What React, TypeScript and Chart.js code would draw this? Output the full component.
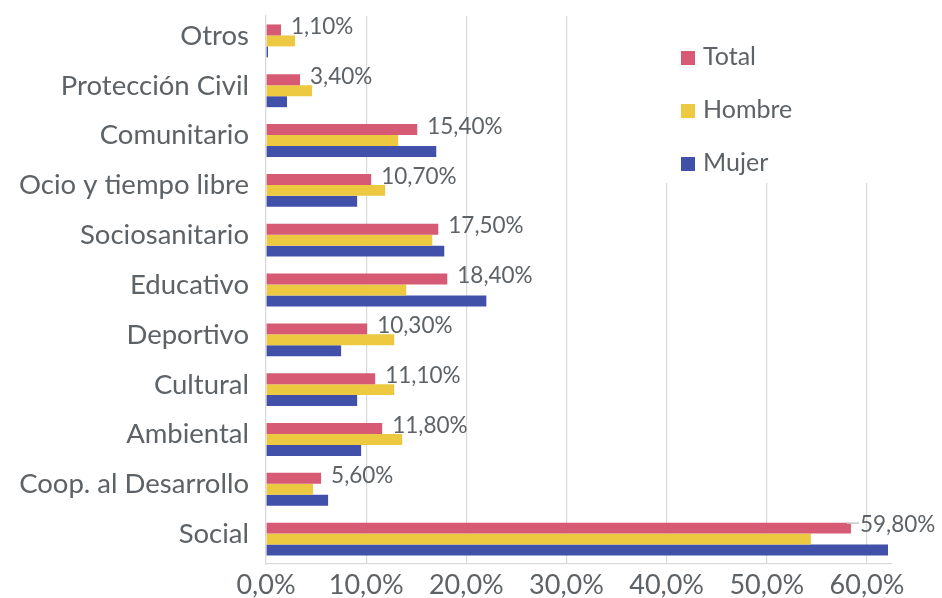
import React, { useEffect, useRef } from "react";
import { Chart, registerables } from "chart.js";

Chart.register(...registerables);

const categories = [
  "Otros",
  "Protección Civil",
  "Comunitario",
  "Ocio y tiempo libre",
  "Sociosanitario",
  "Educativo",
  "Deportivo",
  "Cultural",
  "Ambiental",
  "Coop. al Desarrollo",
  "Social",
];

const totalValues = [1.5, 3.4, 15.1, 10.5, 17.2, 18.1, 10.1, 10.9, 11.6, 5.5, 58.4];
const hombreValues = [2.9, 4.6, 13.2, 11.9, 16.6, 14.0, 12.8, 12.8, 13.6, 4.7, 54.4];
const mujerValues = [0.2, 2.1, 17.0, 9.1, 17.8, 22.0, 7.5, 9.1, 9.5, 6.2, 62.1];

const totalLabels = [
  "1,10%",
  "3,40%",
  "15,40%",
  "10,70%",
  "17,50%",
  "18,40%",
  "10,30%",
  "11,10%",
  "11,80%",
  "5,60%",
  "59,80%",
];

const seriesNames = ["Total", "Hombre", "Mujer"];
const seriesColors = ["#d65a74", "#ecc940", "#4150a8"];

const xTickValues = [0, 10, 20, 30, 40, 50, 60];

const FONT = "Lato, 'Open Sans', sans-serif";
const TEXT = "#5d6266";

export default function App() {
  const ref = useRef<HTMLCanvasElement | null>(null);

  useEffect(() => {
    if (!ref.current) return;

    const overlay = {
      id: "overlay",
      beforeDatasetsDraw(chart: any) {
        const ctx = chart.ctx;
        const area = chart.chartArea;
        ctx.save();
        ctx.fillStyle = "#ffffff";
        ctx.fillRect(640, area.top - 2, 260, 183 - area.top + 2);
        ctx.restore();
      },
      afterDatasetsDraw(chart: any) {
        const ctx = chart.ctx;
        const meta = chart.getDatasetMeta(0);
        ctx.save();
        ctx.font = `22.5px ${FONT}`;
        ctx.fillStyle = TEXT;
        ctx.textBaseline = "middle";
        ctx.textAlign = "left";
        meta.data.forEach((el: any, i: number) => {
          const last = i === meta.data.length - 1;
          const x = el.x + (last ? 9 : 10);
          const y = el.y - 3;
          if (last) {
            ctx.strokeStyle = "#c8c8c8";
            ctx.lineWidth = 1.5;
            ctx.beginPath();
            ctx.moveTo(el.x - 4, el.y - 5);
            ctx.lineTo(el.x + 8, el.y - 5);
            ctx.stroke();
          }
          ctx.fillText(totalLabels[i], x, y);
        });
        // legend
        const ys = [57, 110, 163];
        ctx.font = `25px ${FONT}`;
        seriesNames.forEach((n, i) => {
          ctx.fillStyle = seriesColors[i];
          ctx.fillRect(681, ys[i] - 6, 14, 14);
          ctx.fillStyle = TEXT;
          ctx.fillText(n, 703, ys[i]);
        });
        ctx.restore();
      },
    };

    const chart = new Chart(ref.current, {
      type: "bar",
      data: {
        labels: categories,
        datasets: [
          { label: seriesNames[0], data: totalValues, backgroundColor: seriesColors[0] },
          { label: seriesNames[1], data: hombreValues, backgroundColor: seriesColors[1] },
          { label: seriesNames[2], data: mujerValues, backgroundColor: seriesColors[2] },
        ],
      },
      options: {
        indexAxis: "y",
        responsive: false,
        animation: false,
        maintainAspectRatio: false,
        layout: { padding: { top: 16, right: 50, left: 0, bottom: 0 } },
        datasets: {
          bar: { categoryPercentage: 0.66, barPercentage: 1.0, borderWidth: 0 },
        },
        plugins: {
          legend: { display: false },
          tooltip: { enabled: false },
        },
        scales: {
          x: {
            min: 0,
            max: 62.5,
            afterBuildTicks: (scale: any) => {
              scale.ticks = xTickValues.map((v) => ({ value: v }));
            },
            afterFit: (scale: any) => {
              scale.height = 34;
              scale.paddingLeft = 0;
              scale.paddingRight = 0;
            },
            grid: { color: "#d9d9d9", lineWidth: 1.2, drawTicks: false },
            border: { color: "#d9d9d9", width: 1.2 },
            ticks: {
              padding: 5,
              color: TEXT,
              font: { family: FONT, size: 27 },
              maxRotation: 0,
              callback: (v: any) => Number(v).toFixed(1).replace(".", ",") + "%",
            },
          },
          y: {
            afterFit: (scale: any) => {
              scale.width = 266;
              scale.paddingTop = 0;
              scale.paddingBottom = 0;
            },
            grid: { display: false, drawTicks: false },
            border: { color: "#d9d9d9", width: 1.2 },
            ticks: {
              padding: 17,
              labelOffset: -5,
              color: TEXT,
              font: { family: FONT, size: 27.5 },
              autoSkip: false,
            },
          },
        },
      },
      plugins: [overlay],
    });

    return () => chart.destroy();
  }, []);

  return (
    <div style={{ position: "fixed", left: 0, top: 0, width: 942, height: 598, background: "#fff" }}>
      <canvas ref={ref} width={942} height={598} />
    </div>
  );
}
